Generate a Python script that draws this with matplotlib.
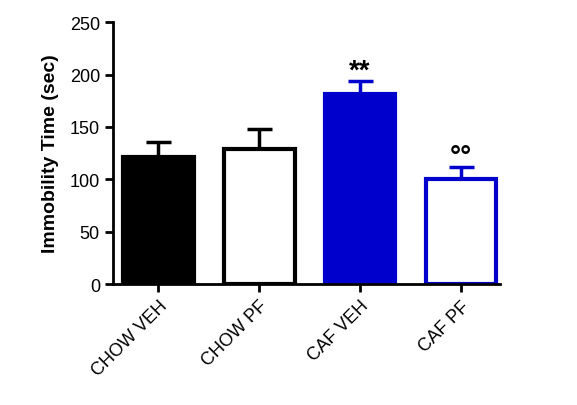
import matplotlib
matplotlib.use("Agg")
import matplotlib.pyplot as plt

categories = ["CHOW VEH", "CHOW PF", "CAF VEH", "CAF PF"]
means = [121, 129, 181, 100]
errors = [15, 19, 13, 12]
faces = ["black", "white", "#0000cc", "white"]
edges = ["black", "black", "#0000cc", "#0000cc"]
marks = ["", "", "**", "°°"]

plt.rcParams['font.family'] = ['Liberation Sans', 'DejaVu Sans']
fig = plt.figure(figsize=(5.77, 4.06), dpi=100)
ax = fig.add_axes([0.196, 0.298, 0.671, 0.645])
x = range(len(categories))
for i in x:
    ax.errorbar(i, means[i], yerr=[[0], [errors[i]]], color=edges[i], capsize=9,
                elinewidth=2.5, capthick=2.5, zorder=1)
    ax.bar(i, means[i], width=0.7, color=faces[i], edgecolor=edges[i], linewidth=3, zorder=2)
    if marks[i]:
        ax.text(i, means[i] + errors[i] - 3, marks[i], ha="center", va="bottom",
                fontsize=20, fontweight="bold", color="black")
ax.set_xlim(-0.45, 3.39)
ax.set_ylim(0, 250)
ax.set_yticks(range(0, 251, 50))
ax.set_xticks(list(x))
ax.set_xticklabels(categories, rotation=45, ha="right", rotation_mode="anchor", fontsize=13)
ax.set_ylabel("Immobility Time (sec)", fontsize=14, fontweight="bold", labelpad=8)
ax.tick_params(axis="y", labelsize=13, width=2, length=6)
ax.tick_params(axis="x", width=2, length=6)
for s in ["top", "right"]:
    ax.spines[s].set_visible(False)
for s in ["left", "bottom"]:
    ax.spines[s].set_linewidth(2)
fig.savefig("out.png", dpi=100)
